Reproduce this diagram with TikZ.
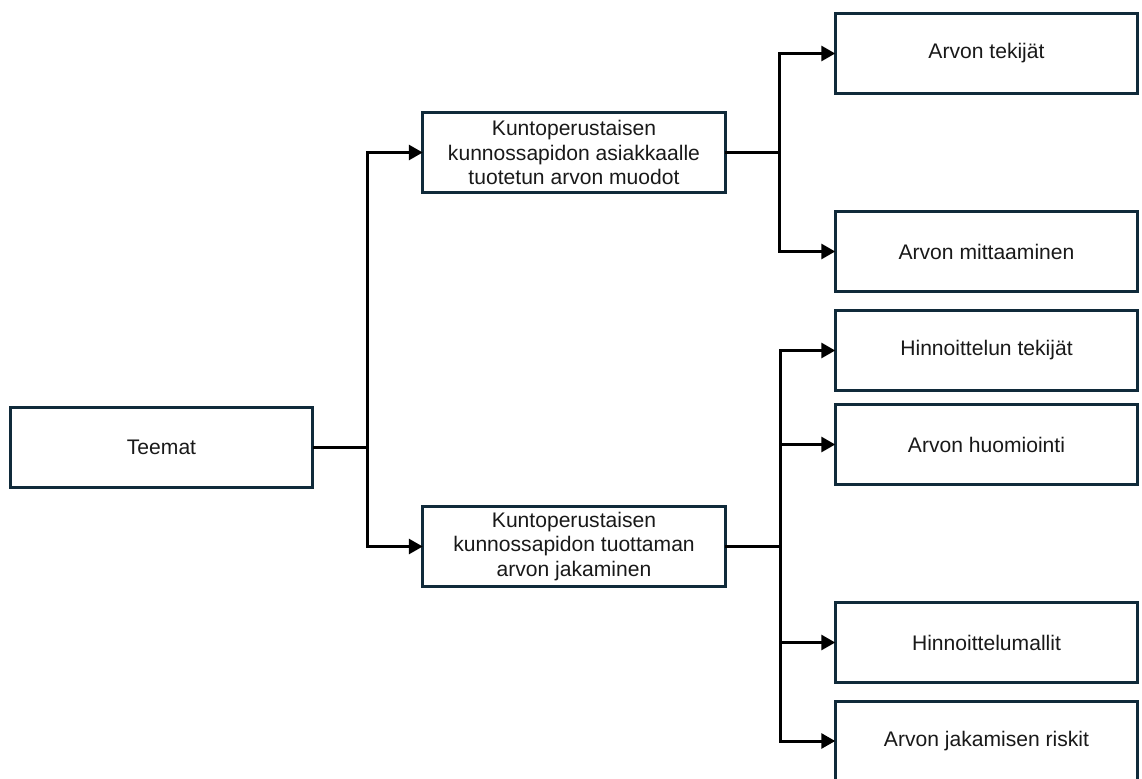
\documentclass[tikz,border=0pt]{standalone}
\usepackage{fontspec}
\setmainfont{Liberation Sans}
\usetikzlibrary{positioning, arrows.meta}

\definecolor{boxline}{RGB}{16,42,58}

\begin{document}
\begin{tikzpicture}[
    every node/.style = {text=black!90, font=\fontsize{12}{14.2}\selectfont, align=center},
    box/.style = {draw=boxline, line width=1.7pt, minimum width=6.05cm, minimum height=1.6cm, inner sep=2pt, outer sep=0pt},
    link/.style = {draw, line width=1.7pt, -{Triangle[length=0.28cm, width=0.3cm]}}
]
    \useasboundingbox (0,0) rectangle (22.84,-15.56);

    \node (teemat) [box] at (3.23,-8.95) {Teemat};
    \node (muodot) [box, right=2.2cm of teemat, yshift=5.9cm] {Kuntoperustaisen\\kunnossapidon asiakkaalle\\tuotetun arvon muodot};
    \node (jakaminen) [box, right=2.2cm of teemat, yshift=-1.98cm] {Kuntoperustaisen\\kunnossapidon tuottaman\\arvon jakaminen};

    \node (tekijat) [box, right=2.2cm of muodot, yshift=1.98cm] {Arvon tekijät};
    \node (mittaaminen) [box, right=2.2cm of muodot, yshift=-1.98cm] {Arvon mittaaminen};

    \node (hinnoittelu) [box, right=2.2cm of jakaminen, yshift=3.92cm] {Hinnoittelun tekijät};
    \node (huomiointi) [box, right=2.2cm of jakaminen, yshift=2.04cm] {Arvon huomiointi};
    \node (mallit) [box, right=2.2cm of jakaminen, yshift=-1.92cm] {Hinnoittelumallit};
    \node (riskit) [box, right=2.2cm of jakaminen, yshift=-3.89cm] {Arvon jakamisen riskit};

    % branch points
    \coordinate (jt) at ([xshift=1.1cm]teemat.east);
    \coordinate (jm) at ([xshift=1.08cm]muodot.east);
    \coordinate (jj) at ([xshift=1.1cm]jakaminen.east);

    \draw[link] (teemat) -- (jt) |- (muodot);
    \draw[link] (teemat) -- (jt) |- (jakaminen);

    \draw[link] (muodot) -- (jm) |- (tekijat);
    \draw[link] (muodot) -- (jm) |- (mittaaminen);

    \draw[link] (jakaminen) -- (jj) |- (hinnoittelu);
    \draw[link] (jakaminen) -- (jj) |- (huomiointi);
    \draw[link] (jakaminen) -- (jj) |- (mallit);
    \draw[link] (jakaminen) -- (jj) |- (riskit);
\end{tikzpicture}
\end{document}
